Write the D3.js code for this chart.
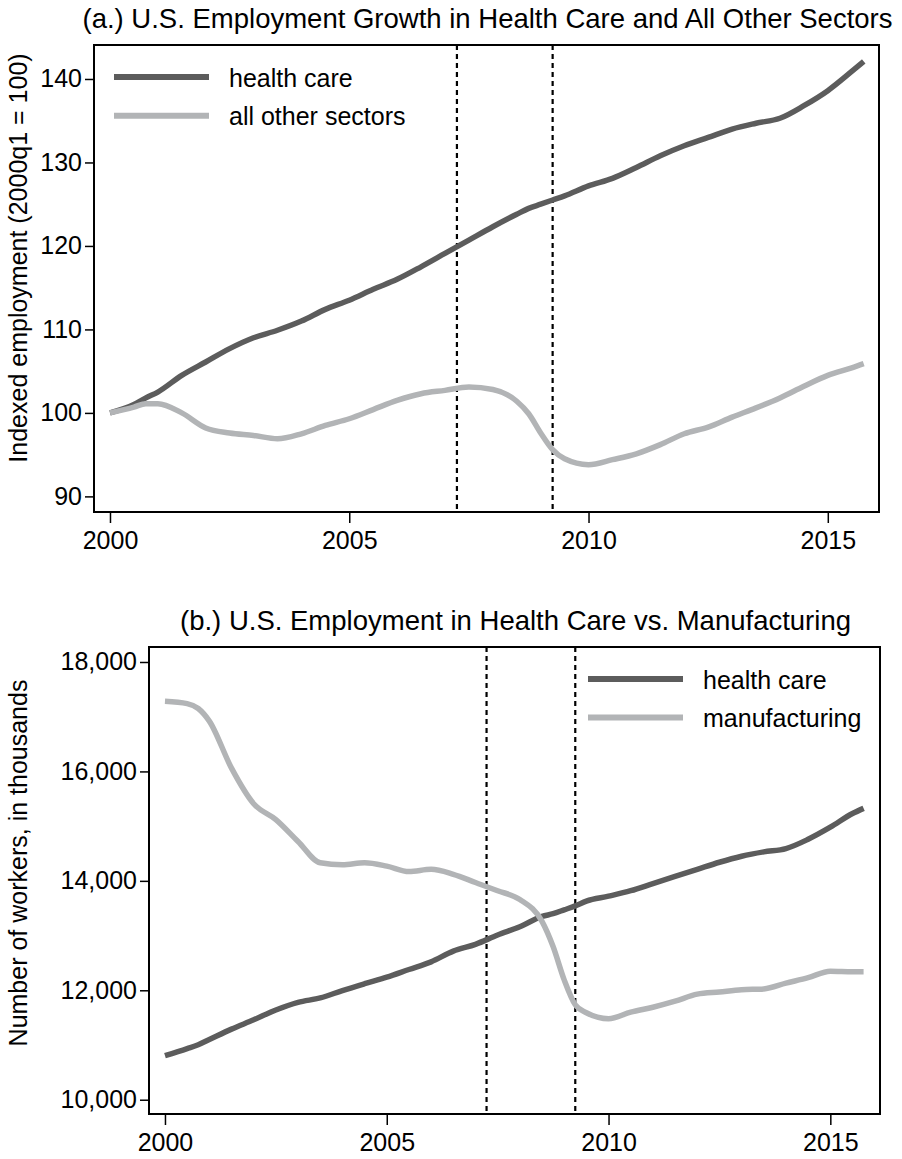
<!DOCTYPE html>
<meta charset="utf-8">
<style>
body { margin: 0; background: #fff; }
text { font-family: "Liberation Sans", Arial, sans-serif; fill: #000; }
</style>
<svg width="902" height="1159"></svg>
<script src="https://d3js.org/d3.v7.min.js"></script>
<script>
var years = [2000, 2000.5, 2000.75, 2001, 2001.5, 2002, 2002.5, 2003, 2003.5, 2004, 2004.5,
	2005, 2005.5, 2006, 2006.5, 2007, 2007.5, 2008, 2008.5, 2008.75, 2009, 2009.25, 2009.5,
	2010, 2010.5, 2011, 2011.5, 2012, 2012.5, 2013, 2013.5, 2014, 2014.5,
	2015, 2015.5, 2015.75];

// panel (a): index, 2000q1 = 100
var healthIndex = [100.0, 101.0, 101.8, 102.5, 104.5, 106.1, 107.7, 109.0, 109.9, 111.0, 112.4,
	113.5, 114.8, 116.0, 117.5, 119.1, 120.7, 122.3, 123.8, 124.5, 125.0, 125.5, 126.0,
	127.2, 128.1, 129.4, 130.8, 132.0, 133.0, 134.0, 134.7, 135.3, 136.8,
	138.6, 140.9, 142.1];
var otherIndex = [100.0, 100.7, 101.1, 101.1, 100.0, 98.2, 97.6, 97.3, 96.9, 97.5, 98.5,
	99.3, 100.4, 101.5, 102.3, 102.7, 103.1, 102.8, 101.4, 99.9, 97.6, 95.6, 94.5,
	93.8, 94.4, 95.1, 96.2, 97.5, 98.3, 99.5, 100.6, 101.8, 103.2,
	104.5, 105.4, 105.9];

// panel (b): workers, thousands
var healthWorkers = [10805, 10935, 11005, 11100, 11290, 11460, 11640, 11780, 11860, 11995, 12120,
	12240, 12380, 12520, 12715, 12840, 13010, 13160, 13350, 13400, 13470, 13542, 13630,
	13720, 13820, 13950, 14080, 14210, 14340, 14450, 14530, 14590, 14760,
	14980, 15230, 15325];
var mfgWorkers = [17283, 17240, 17150, 16920, 16060, 15410, 15120, 14720, 14330, 14295, 14330,
	14270, 14170, 14210, 14120, 13970, 13820, 13660, 13260, 12800, 12190, 11735, 11590,
	11480, 11600, 11690, 11800, 11930, 11970, 12010, 12025, 12130, 12230,
	12350, 12340, 12340];

var recessionLines = [2007.25, 2009.25];
var xTicks = [2000, 2005, 2010, 2015];
var yTicksA = [90, 100, 110, 120, 130, 140];
var yTicksB = [10000, 12000, 14000, 16000, 18000];

var darkGray = "#5c5c5c";
var lightGray = "#b2b4b6";
var fontSize = 25;
var titleSize = 27.5;

var svg = d3.select("svg");

function drawPanel(p) {
	var x = d3.scaleLinear().domain(p.xDomain).range([p.left, p.right]);
	var y = d3.scaleLinear().domain(p.yDomain).range([p.bottom, p.top]);
	var g = svg.append("g");

	// recession markers
	g.selectAll(".rec")
		.data(recessionLines)
		.enter().append("line")
		.attr("x1", function(d) { return x(d); })
		.attr("x2", function(d) { return x(d); })
		.attr("y1", p.top)
		.attr("y2", p.bottom)
		.style("stroke", "#000")
		.style("stroke-width", 2.2)
		.style("stroke-dasharray", "5,4");

	var line = d3.line()
		.x(function(d, i) { return x(years[i]); })
		.y(function(d) { return y(d); })
		.curve(d3.curveMonotoneX);

	p.series.forEach(function(s) {
		g.append("path")
			.datum(s.values)
			.attr("d", line)
			.style("fill", "none")
			.style("stroke", s.color)
			.style("stroke-width", 5.5)
			.style("stroke-linejoin", "round");
	});

	// frame
	g.append("rect")
		.attr("x", p.left)
		.attr("y", p.top)
		.attr("width", p.right - p.left)
		.attr("height", p.bottom - p.top)
		.style("fill", "none")
		.style("stroke", "#000")
		.style("stroke-width", 2);

	var yAxis = g.append("g")
		.attr("transform", "translate(" + p.left + ",0)")
		.call(d3.axisLeft(y).tickValues(p.yTicks).tickSize(9).tickPadding(3).tickFormat(p.yFormat));
	var xAxis = g.append("g")
		.attr("transform", "translate(0," + p.bottom + ")")
		.call(d3.axisBottom(x).tickValues(xTicks).tickSize(11).tickPadding(8).tickFormat(d3.format("d")));
	[yAxis, xAxis].forEach(function(a) {
		a.select(".domain").remove();
		a.selectAll("line").style("stroke", "#000").style("stroke-width", 1.5);
		a.selectAll("text")
			.style("font-family", "'Liberation Sans', Arial, sans-serif")
			.style("font-size", fontSize + "px")
			.style("fill", "#000");
	});

	// title
	g.append("text")
		.attr("x", (p.left + p.right) / 2 + 1)
		.attr("y", p.titleY)
		.style("text-anchor", "middle")
		.style("font-size", titleSize + "px")
		.text(p.title);

	// y label
	g.append("text")
		.attr("transform", "translate(" + 27 + "," + p.yLabelCenter + ") rotate(-90)")
		.style("text-anchor", "middle")
		.style("font-size", fontSize + "px")
		.text(p.yLabel);

	// legend
	p.series.forEach(function(s, i) {
		var ly = p.legendY + i * p.legendGap;
		g.append("line")
			.attr("x1", p.legendX)
			.attr("x2", p.legendX + 95)
			.attr("y1", ly)
			.attr("y2", ly)
			.style("stroke", s.color)
			.style("stroke-width", 6);
		g.append("text")
			.attr("x", p.legendX + 115)
			.attr("y", ly + 9.5)
			.style("font-size", fontSize + "px")
			.text(s.name);
	});
}

drawPanel({
	left: 94, right: 879, top: 45, bottom: 512,
	xDomain: [1999.666, 2016.07],
	yDomain: [88.13, 144.07],
	yTicks: yTicksA,
	yFormat: d3.format("d"),
	title: "(a.) U.S. Employment Growth in Health Care and All Other Sectors",
	titleY: 28,
	yLabel: "Indexed employment (2000q1 = 100)",
	yLabelCenter: 258,
	legendX: 114, legendY: 77, legendGap: 38.7,
	series: [
		{ name: "health care", values: healthIndex, color: darkGray },
		{ name: "all other sectors", values: otherIndex, color: lightGray }
	]
});

drawPanel({
	left: 149, right: 880, top: 647, bottom: 1114,
	xDomain: [1999.64, 2016.12],
	yDomain: [9739, 18274],
	yTicks: yTicksB,
	yFormat: d3.format(","),
	title: "(b.) U.S. Employment in Health Care vs. Manufacturing",
	titleY: 630,
	yLabel: "Number of workers, in thousands",
	yLabelCenter: 863,
	legendX: 588, legendY: 679, legendGap: 38.5,
	series: [
		{ name: "health care", values: healthWorkers, color: darkGray },
		{ name: "manufacturing", values: mfgWorkers, color: lightGray }
	]
});
</script>
